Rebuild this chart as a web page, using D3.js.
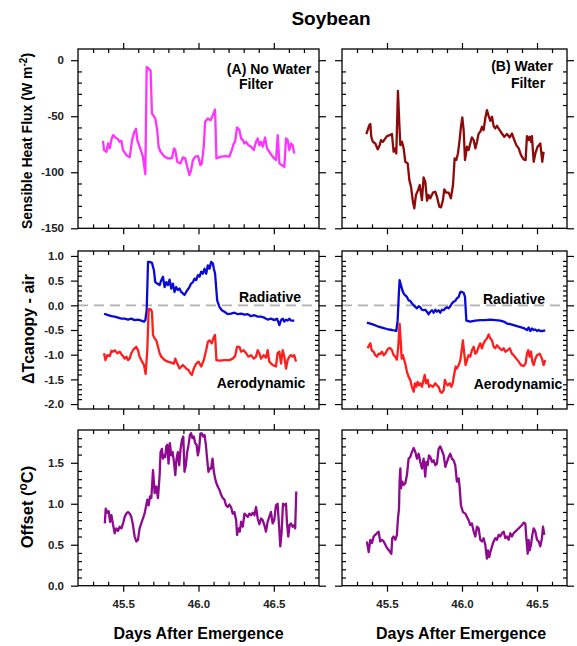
<!DOCTYPE html>
<html>
<head>
<meta charset="utf-8">
<script src="https://cdn.jsdelivr.net/npm/d3@7"></script>
<style>
  body { margin: 0; background: #fff; }
  text { font-family: "Liberation Sans", Arial, sans-serif; font-weight: bold; }
</style>
</head>
<body>
<svg id="chart" width="577" height="646"></svg>
<script>
// ---- data (day after emergence, value) ----

// sensible heat flux, W m-2
const fluxNoFilterDay = [45.366,45.373,45.389,45.400,45.411,45.422,45.433,45.448,45.466,45.477,45.488,45.499,45.521,45.543,45.550,45.559,45.572,45.585,45.594,45.609,45.631,45.647,45.656,45.669,45.682,45.691,45.713,45.726,45.735,45.748,45.775,45.797,45.823,45.837,45.846,45.859,45.881,45.896,45.912,45.925,45.940,45.951,45.963,45.978,45.996,46.013,46.022,46.035,46.044,46.062,46.080,46.095,46.110,46.119,46.150,46.183,46.205,46.221,46.234,46.243,46.256,46.272,46.283,46.294,46.305,46.316,46.331,46.349,46.367,46.382,46.393,46.404,46.415,46.426,46.442,46.455,46.470,46.492,46.515,46.526,46.537,46.552,46.570,46.581,46.592,46.603,46.614,46.625,46.636];
const fluxNoFilter = [-71.9,-80.2,-81.7,-74.3,-78.7,-70.7,-66.8,-68.9,-70.7,-72.8,-71.9,-80.2,-84.7,-86.7,-80.2,-71.3,-64.8,-61.2,-71.3,-77.2,-86.1,-101.6,-5.9,-7.4,-9.5,-47.5,-52.0,-62.4,-77.2,-81.7,-86.1,-87.6,-87.6,-78.7,-80.2,-90.6,-92.1,-86.7,-87.6,-95.1,-102.5,-98.0,-89.1,-86.1,-85.5,-93.6,-92.1,-77.2,-55.0,-52.0,-53.5,-49.0,-44.0,-87.6,-86.1,-85.5,-86.1,-80.2,-74.3,-72.8,-60.0,-62.4,-69.8,-71.3,-74.3,-72.8,-75.8,-77.2,-80.2,-72.8,-69.8,-75.8,-72.8,-77.2,-69.0,-78.7,-81.7,-86.1,-89.1,-66.8,-92.1,-93.6,-95.1,-69.8,-71.3,-80.2,-74.3,-75.8,-83.2];

const fluxFilterDay = [45.362,45.371,45.382,45.389,45.395,45.406,45.422,45.438,45.451,45.460,45.473,45.489,45.500,45.518,45.533,45.544,45.555,45.562,45.566,45.573,45.582,45.589,45.600,45.611,45.622,45.638,45.649,45.660,45.673,45.682,45.693,45.707,45.718,45.733,45.744,45.755,45.767,45.778,45.789,45.806,45.822,45.833,45.849,45.860,45.873,45.882,45.895,45.911,45.926,45.940,45.951,45.962,45.973,45.984,45.993,46.002,46.011,46.020,46.033,46.044,46.055,46.066,46.078,46.089,46.100,46.111,46.122,46.133,46.144,46.155,46.166,46.178,46.189,46.200,46.211,46.222,46.233,46.251,46.266,46.282,46.300,46.318,46.333,46.349,46.362,46.378,46.393,46.411,46.424,46.433,46.442,46.451,46.460,46.466,46.478,46.489,46.504,46.522,46.535,46.544];
const fluxFilter = [-65.9,-62.4,-57.9,-57.0,-68.3,-72.8,-74.3,-79.6,-75.8,-71.3,-72.8,-69.8,-67.7,-66.8,-65.9,-81.7,-78.7,-83.2,-62.4,-27.3,-56.4,-75.8,-72.8,-78.7,-90.6,-92.1,-107.0,-112.9,-126.3,-132.2,-120.3,-115.9,-111.4,-124.8,-104.6,-108.4,-125.4,-120.3,-123.3,-118.2,-117.4,-121.8,-130.7,-131.3,-124.8,-115.3,-118.2,-118.2,-123.3,-111.4,-87.6,-89.1,-83.2,-71.3,-59.4,-51.1,-62.4,-89.1,-77.2,-80.2,-74.3,-68.9,-71.3,-78.7,-72.8,-65.4,-63.9,-59.4,-62.4,-52.0,-44.6,-49.9,-54.1,-50.5,-58.8,-60.9,-58.5,-62.4,-65.4,-68.3,-65.9,-68.9,-65.4,-71.3,-75.8,-78.7,-84.7,-88.5,-89.1,-67.7,-71.3,-68.3,-72.8,-67.7,-90.6,-83.2,-77.2,-74.3,-90.6,-81.7];

// delta T canopy - air, radiative and aerodynamic
const radNoFilterDay = [45.373,45.400,45.422,45.444,45.466,45.488,45.510,45.532,45.554,45.576,45.598,45.620,45.638,45.647,45.656,45.665,45.676,45.691,45.704,45.713,45.726,45.742,45.753,45.764,45.775,45.786,45.797,45.808,45.819,45.830,45.841,45.852,45.863,45.874,45.885,45.896,45.907,45.918,45.929,45.940,45.951,45.963,45.974,45.985,45.996,46.007,46.018,46.029,46.040,46.051,46.062,46.073,46.084,46.095,46.102,46.110,46.124,46.139,46.155,46.172,46.194,46.216,46.238,46.261,46.283,46.305,46.327,46.349,46.371,46.393,46.415,46.437,46.459,46.481,46.503,46.521,46.537,46.548,46.559,46.570,46.581,46.592,46.603,46.614,46.636];
const radNoFilter = [-0.17,-0.20,-0.22,-0.23,-0.25,-0.27,-0.27,-0.29,-0.27,-0.30,-0.29,-0.31,-0.33,-0.30,-0.10,0.88,0.88,0.86,0.71,0.47,0.44,0.41,0.51,0.58,0.37,0.47,0.41,0.52,0.34,0.44,0.27,0.37,0.31,0.34,0.27,0.24,0.21,0.27,0.32,0.37,0.44,0.47,0.54,0.51,0.61,0.58,0.68,0.64,0.74,0.64,0.81,0.74,0.88,0.85,0.74,0.64,0.10,-0.03,-0.10,-0.13,-0.18,-0.17,-0.15,-0.18,-0.17,-0.19,-0.18,-0.22,-0.20,-0.23,-0.23,-0.25,-0.29,-0.27,-0.30,-0.27,-0.40,-0.30,-0.27,-0.33,-0.29,-0.31,-0.27,-0.31,-0.31];

const aeroNoFilterDay = [45.373,45.382,45.395,45.411,45.422,45.433,45.444,45.461,45.477,45.488,45.499,45.510,45.521,45.532,45.543,45.554,45.565,45.576,45.587,45.598,45.609,45.620,45.638,45.649,45.660,45.669,45.682,45.691,45.698,45.709,45.720,45.731,45.742,45.753,45.775,45.797,45.819,45.837,45.846,45.859,45.874,45.896,45.907,45.918,45.934,45.947,45.956,45.969,45.985,46.000,46.018,46.035,46.051,46.062,46.073,46.088,46.102,46.110,46.119,46.139,46.172,46.205,46.227,46.243,46.256,46.272,46.283,46.300,46.316,46.331,46.349,46.367,46.382,46.393,46.404,46.415,46.433,46.448,46.459,46.470,46.492,46.514,46.525,46.537,46.548,46.559,46.570,46.581,46.592,46.603,46.614,46.625,46.636,46.647];
const aeroNoFilter = [-0.97,-1.11,-1.01,-1.03,-0.92,-0.94,-0.91,-0.97,-0.94,-0.99,-1.03,-1.08,-1.04,-1.11,-1.08,-0.97,-0.91,-0.87,-0.84,-0.91,-1.04,-1.11,-1.21,-1.39,-0.91,-0.08,-0.08,-0.13,-0.60,-0.67,-0.71,-0.84,-0.97,-1.04,-1.11,-1.14,-1.16,-1.18,-1.08,-1.18,-1.28,-1.21,-1.24,-1.28,-1.31,-1.38,-1.41,-1.28,-1.18,-1.14,-1.24,-1.11,-0.91,-0.74,-0.71,-0.77,-0.64,-0.60,-1.11,-1.12,-1.11,-1.11,-1.08,-1.03,-0.84,-0.84,-0.94,-0.91,-0.97,-1.04,-1.01,-1.08,-1.04,-0.91,-0.97,-1.08,-1.01,-1.06,-0.91,-1.14,-1.21,-1.24,-0.97,-0.94,-1.18,-0.91,-1.04,-1.28,-1.11,-1.04,-1.01,-1.04,-1.01,-1.14];

const radFilterDay = [45.366,45.400,45.433,45.466,45.500,45.533,45.562,45.571,45.578,45.584,45.593,45.602,45.611,45.622,45.633,45.644,45.655,45.666,45.678,45.689,45.700,45.711,45.722,45.733,45.744,45.755,45.766,45.778,45.789,45.800,45.811,45.822,45.833,45.844,45.855,45.866,45.878,45.889,45.900,45.911,45.922,45.933,45.944,45.955,45.966,45.978,45.989,46.000,46.011,46.020,46.029,46.055,46.089,46.122,46.155,46.189,46.222,46.255,46.278,46.300,46.322,46.344,46.366,46.389,46.411,46.433,46.444,46.455,46.466,46.478,46.489,46.500,46.511,46.522,46.540,46.555];
const radFilter = [-0.35,-0.38,-0.42,-0.45,-0.48,-0.50,-0.52,-0.30,0.17,0.51,0.41,0.31,0.24,0.20,0.17,0.10,0.09,0.04,0.00,-0.03,-0.06,-0.02,-0.04,-0.09,-0.10,-0.09,-0.13,-0.18,-0.13,-0.10,-0.15,-0.09,-0.13,-0.10,-0.15,-0.09,-0.10,-0.06,-0.04,-0.06,-0.02,0.04,0.07,0.09,0.14,0.17,0.27,0.27,0.25,0.17,-0.31,-0.33,-0.31,-0.30,-0.30,-0.29,-0.30,-0.31,-0.33,-0.37,-0.38,-0.40,-0.42,-0.44,-0.46,-0.50,-0.45,-0.52,-0.47,-0.50,-0.49,-0.52,-0.50,-0.52,-0.52,-0.51];

const aeroFilterDay = [45.371,45.380,45.389,45.398,45.411,45.422,45.433,45.444,45.455,45.466,45.478,45.489,45.500,45.511,45.522,45.533,45.544,45.555,45.566,45.575,45.584,45.591,45.598,45.606,45.615,45.624,45.633,45.644,45.655,45.666,45.678,45.686,45.695,45.704,45.713,45.722,45.733,45.744,45.751,45.760,45.771,45.780,45.789,45.806,45.822,45.833,45.844,45.855,45.866,45.878,45.886,45.895,45.904,45.918,45.929,45.938,45.949,45.958,45.966,45.978,45.989,45.998,46.006,46.015,46.024,46.033,46.044,46.055,46.066,46.078,46.089,46.100,46.111,46.122,46.133,46.144,46.155,46.166,46.178,46.189,46.200,46.211,46.222,46.233,46.251,46.266,46.278,46.289,46.304,46.318,46.333,46.344,46.362,46.378,46.393,46.411,46.424,46.433,46.442,46.451,46.460,46.469,46.478,46.489,46.500,46.518,46.533,46.544,46.555];
const aeroFilter = [-0.87,-0.81,-0.77,-0.91,-0.94,-1.01,-1.04,-0.98,-0.99,-0.94,-1.01,-0.98,-0.91,-0.87,-0.87,-0.91,-1.01,-1.04,-1.10,-0.84,-0.37,-0.71,-1.08,-1.01,-1.11,-1.21,-1.35,-1.45,-1.51,-1.65,-1.75,-1.58,-1.65,-1.55,-1.62,-1.58,-1.65,-1.51,-1.41,-1.58,-1.51,-1.65,-1.62,-1.65,-1.58,-1.62,-1.65,-1.75,-1.77,-1.72,-1.51,-1.58,-1.62,-1.58,-1.65,-1.58,-1.38,-1.24,-1.28,-1.21,-1.11,-0.91,-0.71,-0.98,-1.21,-1.11,-1.01,-1.04,-0.91,-0.84,-0.98,-0.94,-0.84,-0.77,-0.87,-0.77,-0.71,-0.67,-0.59,-0.67,-0.71,-0.84,-0.87,-0.81,-0.87,-0.91,-0.87,-0.94,-0.91,-0.87,-0.98,-1.01,-1.08,-1.14,-1.21,-1.23,-1.18,-0.98,-0.91,-1.04,-0.94,-1.14,-1.21,-1.08,-1.01,-0.98,-1.08,-1.21,-1.11];

// offset, deg C
const offsetNoFilterDay = [45.378,45.384,45.395,45.404,45.413,45.422,45.433,45.444,45.455,45.466,45.477,45.488,45.499,45.510,45.521,45.532,45.543,45.554,45.565,45.576,45.587,45.598,45.609,45.620,45.631,45.642,45.653,45.660,45.669,45.678,45.687,45.698,45.709,45.720,45.731,45.742,45.748,45.757,45.764,45.770,45.779,45.786,45.793,45.801,45.810,45.819,45.828,45.837,45.846,45.854,45.863,45.872,45.881,45.890,45.899,45.907,45.916,45.925,45.934,45.943,45.951,45.960,45.969,45.978,45.987,45.996,46.004,46.013,46.022,46.031,46.040,46.049,46.057,46.066,46.075,46.084,46.093,46.102,46.110,46.119,46.128,46.139,46.150,46.161,46.172,46.183,46.194,46.205,46.216,46.227,46.238,46.250,46.256,46.265,46.274,46.283,46.294,46.305,46.316,46.327,46.338,46.349,46.360,46.371,46.382,46.393,46.404,46.415,46.426,46.437,46.448,46.459,46.470,46.481,46.492,46.503,46.514,46.525,46.536,46.543,46.552,46.561,46.570,46.581,46.587,46.596,46.605,46.614,46.625,46.636,46.642,46.649];
const offsetNoFilter = [0.76,0.94,0.89,0.91,0.78,0.86,0.74,0.64,0.70,0.67,0.72,0.70,0.76,0.84,0.88,0.90,0.88,0.84,0.74,0.60,0.54,0.56,0.70,0.76,0.82,0.88,0.98,1.05,0.98,1.09,1.07,1.41,1.13,1.21,1.07,1.35,1.63,1.67,1.55,1.59,1.57,1.70,1.72,1.49,1.74,1.59,1.63,1.51,1.35,1.55,1.63,1.47,1.67,1.78,1.82,1.39,1.47,1.63,1.72,1.84,1.86,1.80,1.82,1.74,1.72,1.59,1.67,1.86,1.86,1.82,1.84,1.72,1.55,1.39,1.43,1.43,1.55,1.39,1.31,1.25,1.21,1.17,1.11,1.07,1.05,0.98,0.96,0.99,0.96,0.88,0.90,0.80,0.62,0.70,0.66,0.78,0.72,0.88,0.86,0.84,0.88,0.86,0.89,0.86,0.96,0.82,0.75,0.82,0.80,0.74,0.66,0.78,0.84,0.90,0.76,0.80,0.98,1.00,0.70,0.48,0.66,1.00,0.98,1.00,0.78,0.60,0.74,0.76,0.72,0.74,0.70,1.15];

const offsetFilterDay = [45.366,45.378,45.389,45.400,45.411,45.422,45.433,45.444,45.455,45.466,45.478,45.489,45.500,45.518,45.529,45.535,45.544,45.555,45.566,45.573,45.580,45.584,45.589,45.593,45.602,45.611,45.622,45.633,45.644,45.655,45.666,45.678,45.689,45.700,45.711,45.722,45.733,45.744,45.755,45.762,45.771,45.780,45.789,45.800,45.811,45.822,45.833,45.844,45.855,45.866,45.878,45.889,45.900,45.911,45.922,45.933,45.944,45.955,45.966,45.978,45.984,45.993,46.006,46.022,46.033,46.044,46.055,46.066,46.078,46.089,46.100,46.111,46.122,46.133,46.144,46.155,46.166,46.173,46.182,46.189,46.200,46.211,46.222,46.233,46.244,46.255,46.266,46.278,46.289,46.300,46.311,46.322,46.333,46.344,46.355,46.366,46.378,46.389,46.400,46.411,46.422,46.429,46.438,46.444,46.451,46.460,46.469,46.478,46.489,46.500,46.511,46.522,46.533,46.540,46.549];
const offsetFilter = [0.54,0.41,0.56,0.52,0.60,0.62,0.64,0.66,0.54,0.56,0.54,0.50,0.46,0.42,0.39,0.58,0.60,0.56,0.62,0.82,0.94,1.27,1.43,1.19,1.27,1.23,1.25,1.35,1.55,1.57,1.63,1.68,1.63,1.55,1.61,1.51,1.43,1.55,1.33,1.51,1.47,1.59,1.57,1.51,1.53,1.47,1.49,1.67,1.70,1.65,1.59,1.45,1.51,1.57,1.61,1.55,1.53,1.47,1.27,1.31,1.21,0.98,0.90,0.88,0.84,0.80,0.74,0.76,0.66,0.60,0.72,0.70,0.56,0.54,0.58,0.50,0.33,0.43,0.35,0.41,0.48,0.54,0.58,0.56,0.62,0.60,0.64,0.66,0.58,0.60,0.56,0.64,0.60,0.64,0.66,0.68,0.70,0.72,0.74,0.77,0.76,0.58,0.39,0.56,0.43,0.50,0.62,0.70,0.66,0.56,0.54,0.48,0.58,0.72,0.62];

// axis ticks
const xMajor = [45.5, 46.0, 46.5];
const fluxMajor = [-150, -100, -50, 0];
const deltaMajor = [-2.0, -1.5, -1.0, -0.5, 0.0, 0.5, 1.0];
const offsetMajor = [0.0, 0.5, 1.0, 1.5];

// ---- layout ----
const svg = d3.select("#chart");

const cols = [
  { x0: 78, x1: 319, domain: [45.2, 46.8] },
  { x0: 342, x1: 567, domain: [45.2, 46.7] }
];
const rows = [
  { y0: 49, y1: 228.3, domain: [-150, 10], major: fluxMajor, step: 10, fmt: d => String(d) },
  { y0: 251, y1: 409, domain: [-2.1, 1.1], major: deltaMajor, step: 0.1, fmt: d => d.toFixed(1) },
  { y0: 430, y1: 585.7, domain: [0, 1.9], major: offsetMajor, step: 0.1, fmt: d => d.toFixed(1) }
];

// minor ticks every `step` inside the domain, skipping the major ones
function minorTicks(domain, step, major) {
  const out = [];
  const n = Math.round((domain[1] - domain[0]) / step);
  for (let i = 1; i < n; i++) {
    const v = +(domain[0] + i * step).toFixed(4);
    if (!major.some(m => Math.abs(m - v) < 1e-6)) out.push(v);
  }
  return out;
}

const panels = [
  { r: 0, c: 0, series: [[fluxNoFilterDay, fluxNoFilter, "#ff33ff"]] },
  { r: 0, c: 1, series: [[fluxFilterDay, fluxFilter, "#8e0a0a"]] },
  { r: 1, c: 0, series: [[radNoFilterDay, radNoFilter, "#0a0ad6"], [aeroNoFilterDay, aeroNoFilter, "#ff1e1e"]], zero: true },
  { r: 1, c: 1, series: [[radFilterDay, radFilter, "#0a0ad6"], [aeroFilterDay, aeroFilter, "#ff1e1e"]], zero: true },
  { r: 2, c: 0, series: [[offsetNoFilterDay, offsetNoFilter, "#8e0a8e"]] },
  { r: 2, c: 1, series: [[offsetFilterDay, offsetFilter, "#8e0a8e"]] }
];

function styleAxis(g) {
  g.select(".domain").remove();
  g.selectAll(".tick line").attr("stroke", "#000").attr("stroke-width", 1.2);
  g.selectAll(".tick text")
    .attr("fill", "#222")
    .style("font-size", "11.5px")
    .style("font-family", "'Liberation Sans', Arial, sans-serif")
    .style("font-weight", "bold");
}

panels.forEach(p => {
  const col = cols[p.c], row = rows[p.r];
  const x = d3.scaleLinear().domain(col.domain).range([col.x0, col.x1]);
  const y = d3.scaleLinear().domain(row.domain).range([row.y1, row.y0]);
  const g = svg.append("g");

  const xMinor = minorTicks(col.domain, 0.1, xMajor);
  const yMinor = minorTicks(row.domain, row.step, row.major);

  // zero reference line
  if (p.zero) {
    g.append("line")
      .attr("x1", col.x0).attr("x2", col.x1)
      .attr("y1", y(0)).attr("y2", y(0))
      .attr("stroke", "#b0b0b0").attr("stroke-width", 1.8)
      .attr("stroke-dasharray", "10,6");
  }

  const line = d3.line().x(d => x(d[0])).y(d => y(d[1]));
  p.series.forEach(([days, vals, color]) => {
    g.append("path")
      .datum(d3.zip(days, vals))
      .attr("d", line)
      .attr("fill", "none")
      .attr("stroke", color)
      .attr("stroke-width", 2.3)
      .attr("stroke-linejoin", "round");
  });

  // major ticks point out, minor ticks point in
  const showY = p.c === 0, showX = p.r === 2;
  g.append("g").attr("transform", `translate(${col.x0},0)`)
    .call(d3.axisLeft(y).tickValues(row.major).tickSize(7).tickPadding(7)
      .tickFormat(showY ? row.fmt : () => ""))
    .call(styleAxis);
  g.append("g").attr("transform", `translate(${col.x0},0)`)
    .call(d3.axisLeft(y).tickValues(yMinor).tickSize(-4).tickFormat(() => ""))
    .call(styleAxis);
  g.append("g").attr("transform", `translate(${col.x1},0)`)
    .call(d3.axisRight(y).tickValues(row.major).tickSize(7).tickFormat(() => ""))
    .call(styleAxis);
  g.append("g").attr("transform", `translate(${col.x1},0)`)
    .call(d3.axisRight(y).tickValues(yMinor).tickSize(-4).tickFormat(() => ""))
    .call(styleAxis);
  g.append("g").attr("transform", `translate(0,${row.y0})`)
    .call(d3.axisTop(x).tickValues(xMajor).tickSize(6).tickFormat(() => ""))
    .call(styleAxis);
  g.append("g").attr("transform", `translate(0,${row.y0})`)
    .call(d3.axisTop(x).tickValues(xMinor).tickSize(-4).tickFormat(() => ""))
    .call(styleAxis);
  g.append("g").attr("transform", `translate(0,${row.y1})`)
    .call(d3.axisBottom(x).tickValues(xMajor).tickSize(6).tickPadding(8)
      .tickFormat(showX ? d3.format(".1f") : () => ""))
    .call(styleAxis);
  g.append("g").attr("transform", `translate(0,${row.y1})`)
    .call(d3.axisBottom(x).tickValues(xMinor).tickSize(-4).tickFormat(() => ""))
    .call(styleAxis);

  g.append("rect")
    .attr("x", col.x0).attr("y", row.y0)
    .attr("width", col.x1 - col.x0).attr("height", row.y1 - row.y0)
    .attr("fill", "none").attr("stroke", "#000").attr("stroke-width", 1.3);
});

// ---- text ----
function label(x, y, txt, size) {
  return svg.append("text").attr("x", x).attr("y", y)
    .attr("text-anchor", "middle").style("font-size", size + "px").text(txt);
}

label(331, 25, "Soybean", 19);

label(269, 74, "(A) No Water", 14);
label(256, 89, "Filter", 14);
label(522, 71, "(B) Water", 14);
label(528, 88, "Filter", 14);

label(270, 302, "Radiative", 14);
label(261, 388, "Aerodynamic", 14);
label(514, 304, "Radiative", 14);
label(518, 389, "Aerodynamic", 14);

label(198.5, 639, "Days After Emergence", 16);
label(461, 639, "Days After Emergence", 16);

// rotated y titles
const yt1 = svg.append("text")
  .attr("transform", "translate(32,141) rotate(-90)")
  .attr("text-anchor", "middle").style("font-size", "14px");
yt1.append("tspan").text("Sensible Heat Flux (W m");
yt1.append("tspan").attr("dy", -5).style("font-size", "10px").text("-2");
yt1.append("tspan").attr("dy", 5).text(")");

svg.append("text")
  .attr("transform", "translate(34,329) rotate(-90)")
  .attr("text-anchor", "middle").style("font-size", "16px")
  .text("\u0394Tcanopy - air");

const yt3 = svg.append("text")
  .attr("transform", "translate(33,507) rotate(-90)")
  .attr("text-anchor", "middle").style("font-size", "16.5px");
yt3.append("tspan").text("Offset (");
yt3.append("tspan").attr("dy", -6).style("font-size", "12px").text("o");
yt3.append("tspan").attr("dy", 6).text("C)");
</script>
</body>
</html>
